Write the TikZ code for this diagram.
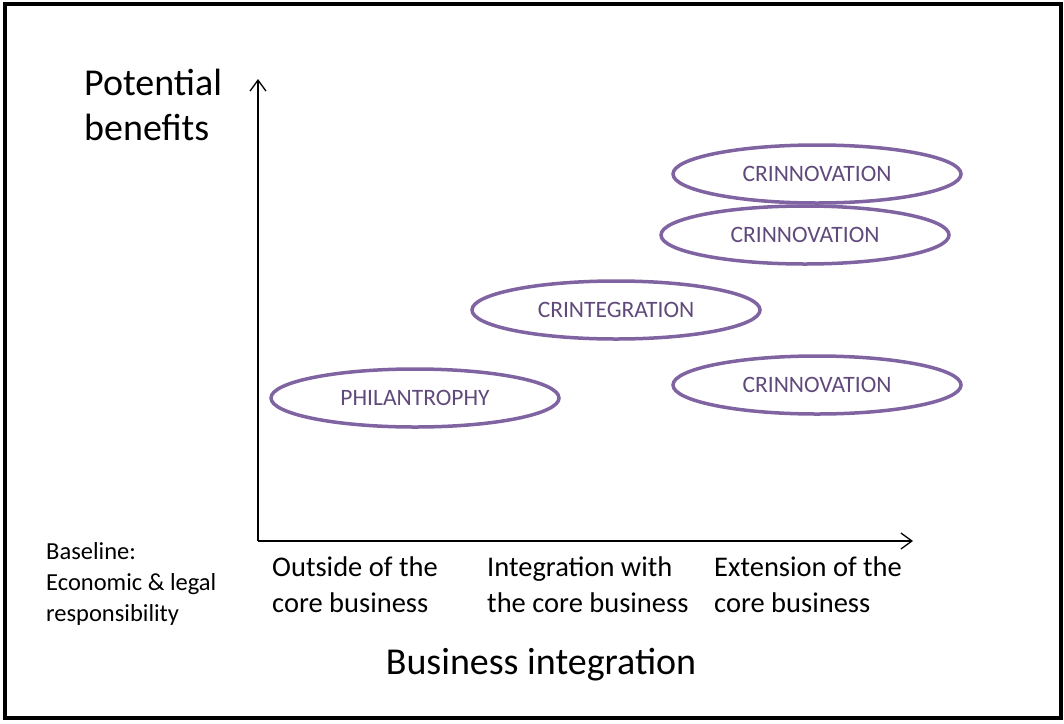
\documentclass[tikz,border=0pt]{standalone}
\usepackage{fontspec}
\setmainfont{Carlito}
\usepackage{tikz}
\usetikzlibrary{shapes.geometric, arrows.meta, positioning}
\definecolor{ringline}{RGB}{128,100,162}
\definecolor{ringtext}{RGB}{96,74,123}
\tikzset{
    ring/.style={ellipse, draw=ringline, line width=3.5pt, minimum width=288pt, minimum height=58pt, inner sep=0pt, text=ringtext, font=\fontsize{23.5}{26}\selectfont},
    axis/.style={line width=1.3pt, -{Straight Barb[length=11pt, width=16pt, line width=1.3pt]}},
    collabel/.style={anchor=north west, align=left, inner sep=0pt, font=\fontsize{28.5}{36}\selectfont},
    biglabel/.style={inner sep=0pt, font=\fontsize{38}{45}\selectfont}
}
\begin{document}
\begin{tikzpicture}[x=1pt, y=-1pt]
    \useasboundingbox (0,0) rectangle (1064,723);
    % Frame
    \draw[line width=4pt] (4.5,4) rectangle (1061,718);

    % Axes
    \coordinate (origin) at (258,541);
    \coordinate (ytop) at (258,79);
    \coordinate (xend) at (913,541);
    \draw[axis] (origin) -- (ytop);
    \draw[axis] (origin) -- (xend);

    % Axis labels
    \node[biglabel, anchor=north west, align=left] (benefits) at (84,69) {Potential\\ benefits};
    \node[biglabel] (integration) at (541,665) {Business integration};
    \node[anchor=north west, align=left, inner sep=0pt, font=\fontsize{24.5}{31}\selectfont] (baseline) at (46,542) {Baseline:\\ Economic \& legal\\ responsibility};

    % Columns
    \node[collabel] (outside) at (272,557) {Outside of the\\ core business};
    \node[collabel] (withcore) at (487,557) {Integration with\\ the core business};
    \node[collabel] (extension) at (714,557) {Extension of the\\ core business};

    % Ellipses
    \node[ring] (philan) at (415,398) {PHILANTROPHY};
    \node[ring] (crint) at (616,310) {CRINTEGRATION};
    \node[ring] (crinnA) at (817,174) {CRINNOVATION};
    \node[ring] (crinnB) at (805,235) {CRINNOVATION};
    \node[ring] (crinnC) at (817,385) {CRINNOVATION};
\end{tikzpicture}
\end{document}
